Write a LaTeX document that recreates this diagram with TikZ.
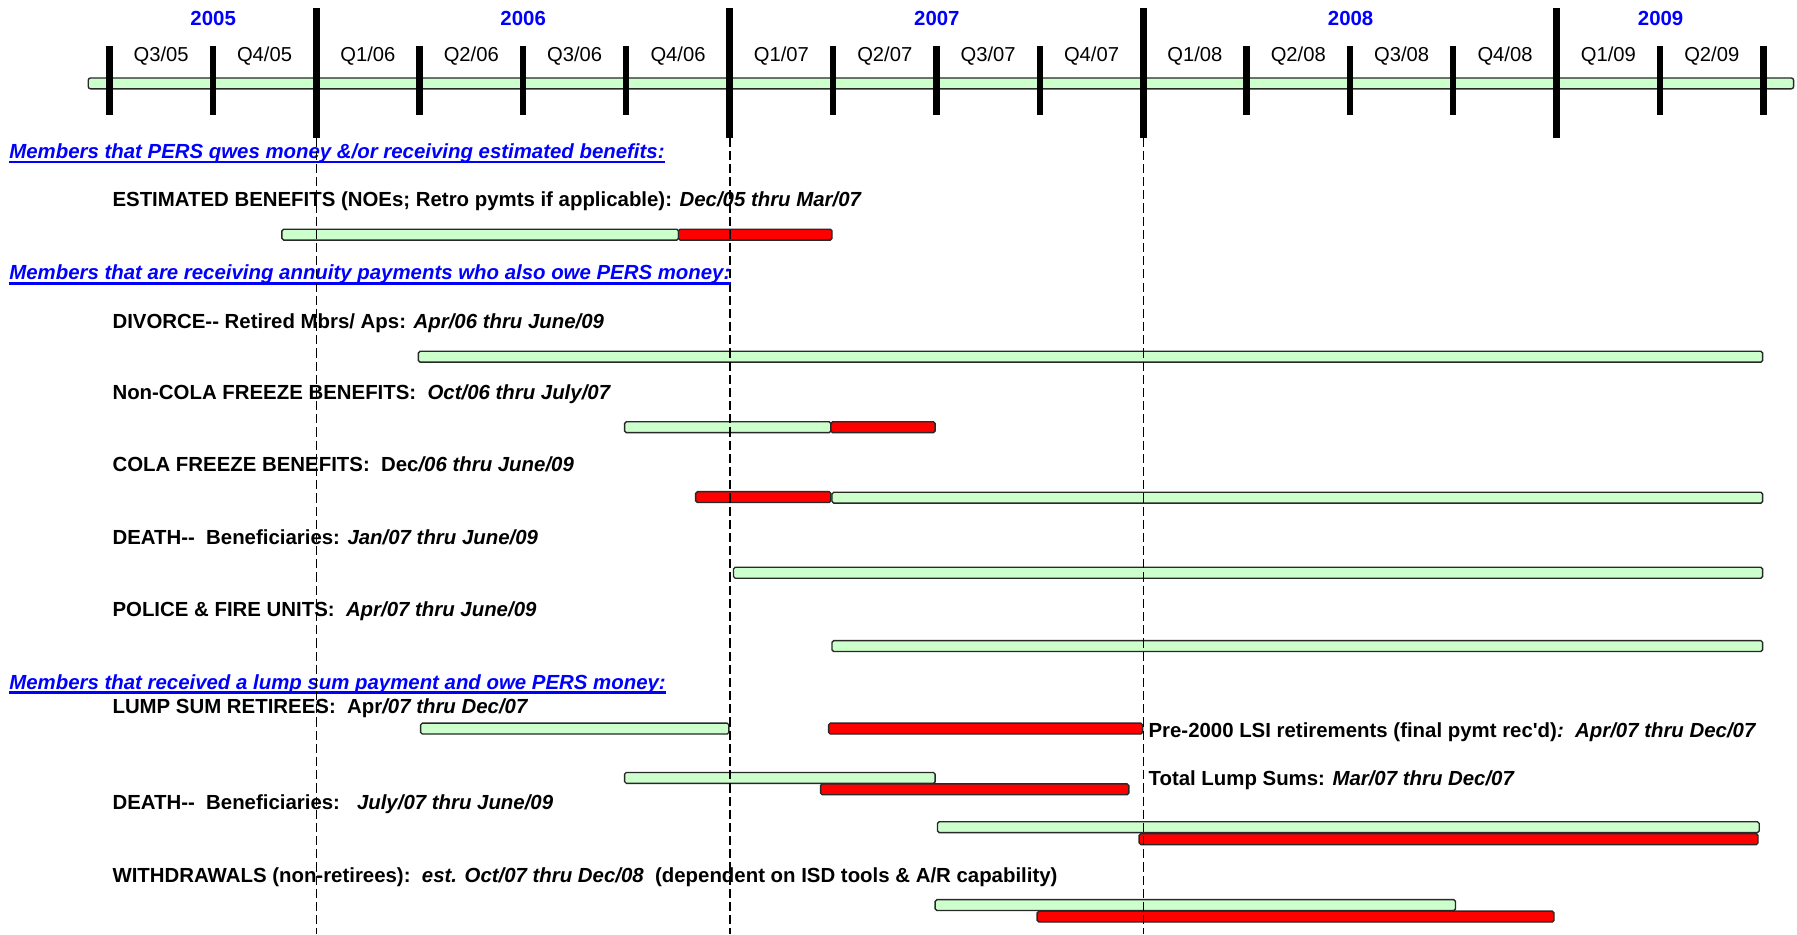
\documentclass[tikz,border=0pt]{standalone}
\usepackage{fontspec}
\newfontfamily\arialf{Liberation Sans}
\definecolor{hblue}{RGB}{0,0,255}
\definecolor{lgreen}{RGB}{204,255,204}
\definecolor{barline}{RGB}{40,40,40}
\newcommand\dbldash{-\kern0pt-}
\begin{document}
\begin{tikzpicture}[x=1pt,y=-1pt,
  lbl/.style={anchor=base west, inner sep=0pt, font=\arialf\fontsize{17.8}{20}\selectfont\bfseries},
  hdr/.style={anchor=base west, inner sep=0pt, text=hblue, font=\arialf\fontsize{17.8}{20}\selectfont\bfseries\itshape},
  qlbl/.style={anchor=base, inner sep=0pt, font=\arialf\fontsize{17.6}{20}\selectfont},
  ylbl/.style={anchor=base, inner sep=0pt, text=hblue, font=\arialf\fontsize{17.8}{20}\selectfont\bfseries},
  gbar/.style={draw=barline, fill=lgreen, line width=1.2pt, rounded corners=1.5pt},
  rbar/.style={draw=barline, fill=red, line width=1.2pt, rounded corners=1.5pt},
  ytick/.style={line width=6pt},
  qtick/.style={line width=5.5pt},
  guide/.style={line width=1pt, dash pattern=on 8pt off 3.5pt},
  uline/.style={draw=hblue, line width=2pt}
]
\useasboundingbox (0,0) rectangle (1568,815);
% timeline bar
\draw[gbar, rounded corners=2pt] (77,68) rectangle (1565,77.5);
% quarter ticks
\foreach \k in {0,1,3,4,5,7,8,9,11,12,13,15,16}
  \draw[qtick] ({95.5+90.2*\k},40) -- ({95.5+90.2*\k},100);
% year ticks
\foreach \k in {2,6,10,14}
  \draw[ytick] ({95.5+90.2*\k},7) -- ({95.5+90.2*\k},120);
% year labels
\node[ylbl] (y05) at (186,22) {2005};
\node[ylbl] (y06) at (456.5,22) {2006};
\node[ylbl] (y07) at (817.5,22) {2007};
\node[ylbl] (y08) at (1178.5,22) {2008};
\node[ylbl] (y09) at (1449,22) {2009};
% quarter labels
\foreach \lab [count=\i from 0] in {Q3/05,Q4/05,Q1/06,Q2/06,Q3/06,Q4/06,Q1/07,Q2/07,Q3/07,Q4/07,Q1/08,Q2/08,Q3/08,Q4/08,Q1/09,Q2/09}
  \node[qlbl] (q\i) at ({95.5+90.2*\i+45.1},54) {\lab};
% headers
\node[hdr] (h1) at (8,138.3) {Members that PERS qwes money \&/or receiving estimated benefits:};
\node[hdr] (h2) at (8,244.3) {Members that are receiving annuity payments who also owe PERS money:};
\node[hdr] (h3) at (8,601.3) {Members that received a lump sum payment and owe PERS money:};
\foreach \h in {h1,h2,h3}
  \draw[uline] ([yshift=-3pt]\h.base west) -- ([yshift=-3pt]\h.base east);
% row labels
\node[lbl] (r1) at (98,180.3) {ESTIMATED BENEFITS (NOEs; Retro pymts if applicable): \textit{Dec/05 thru Mar/07}};
\node[lbl] (r2) at (98,286.3) {DIVORCE\dbldash{} Retired Mbrs/ Aps: \textit{Apr/06 thru June/09}};
\node[lbl] (r3) at (98,348.3) {Non-COLA FREEZE BENEFITS:~~\textit{Oct/06 thru July/07}};
\node[lbl] (r4) at (98,411.3) {COLA FREEZE BENEFITS:~~Dec\textit{/06 thru June/09}};
\node[lbl] (r5) at (98,475.3) {DEATH\dbldash{}~~Beneficiaries: \textit{Jan/07 thru June/09}};
\node[lbl] (r6) at (98,538.3) {POLICE \& FIRE UNITS:~~\textit{Apr/07 thru June/09}};
\node[lbl] (r7) at (98,622.3) {LUMP SUM RETIREES:~~Apr\textit{/07 thru Dec/07}};
\node[lbl] (pre) at (1002,643.3) {Pre-2000 LSI retirements (final pymt rec'd)\textit{:~~Apr/07 thru Dec/07}};
\node[lbl] (tot) at (1002,685.3) {Total Lump Sums: \textit{Mar/07 thru Dec/07}};
\node[lbl] (r8) at (98,706.3) {DEATH\dbldash{}~~Beneficiaries:~~~\textit{July/07 thru June/09}};
\node[lbl] (r9) at (98,770.3) {WITHDRAWALS (non-retirees):~~\textit{est. Oct/07 thru Dec/08}~~(dependent on ISD tools \& A/R capability)};
% bars
\draw[gbar] (246,200) rectangle (592,209.5);
\draw[rbar] (592,200) rectangle (726,209.5);
\draw[gbar] (365,306.5) rectangle (1538,316);
\draw[gbar] (545,368) rectangle (725,377.5);
\draw[rbar] (725,368) rectangle (816,377.5);
\draw[rbar] (607,429) rectangle (725,438.5);
\draw[gbar] (726,429.5) rectangle (1538,439);
\draw[gbar] (640,495) rectangle (1538,504.5);
\draw[gbar] (726,559) rectangle (1538,568.5);
\draw[gbar] (367,631) rectangle (636,640.5);
\draw[rbar] (723,631) rectangle (997,640.5);
\draw[gbar] (545,674) rectangle (816,683.5);
\draw[rbar] (716,684) rectangle (985,693.5);
\draw[gbar] (818,717) rectangle (1535,726.5);
\draw[rbar] (994,727.5) rectangle (1534,737);
\draw[gbar] (816,785) rectangle (1270,794.5);
\draw[rbar] (905,795) rectangle (1356,804.5);
% guide lines
\coordinate (g1) at (276,815);
\coordinate (g2) at (637,815);
\coordinate (g3) at (998,815);
\draw[guide] (276,120) -- (g1);
\draw[guide] (637,120) -- (g2);
\draw[guide] (998,120) -- (g3);
\end{tikzpicture}
\end{document}
